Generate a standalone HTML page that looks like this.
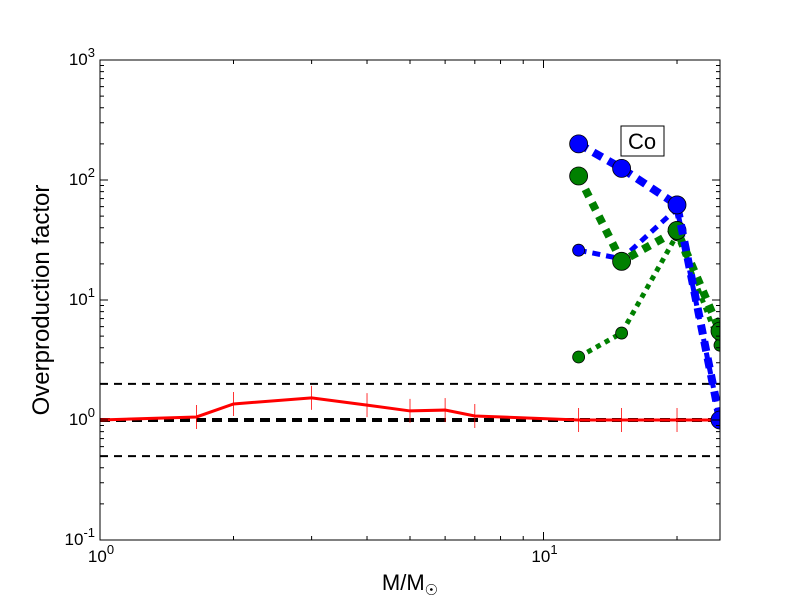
<!DOCTYPE html>
<html><head><meta charset="utf-8"><style>
body{margin:0;background:#fff;}
svg{display:block;font-family:"Liberation Sans",sans-serif;}
</style></head><body>
<svg id="chart" width="800" height="600">
<defs><clipPath id="clip"><rect x="100" y="60" width="620" height="480"/></clipPath></defs>
<rect x="0" y="0" width="800" height="600" fill="#fff"/>
<g id="plot" clip-path="url(#clip)"></g>
<g id="axes"></g>
</svg>
<script>
const redMass=[1,1.65,2,3,4,5,6,7,12,15,20,25];
const redVals=[1,1.06,1.36,1.53,1.33,1.19,1.21,1.08,1.0,1.0,1.0,1.0];
const massiveMass=[12,15,20,25];
const blueThick=[200,125,62,1];
const greenThick=[108,21,38,5.5];
const blueThin=[26,22,58,1];
const greenThin=[3.35,5.3,35,4.2];
const hLines=[2,1,0.5];
const xTickVals=[1,10];
const xTickLabels=["10","10"];
const xTickExp=["0","1"];
const yTickVals=[0.1,1,10,100,1000];
const yTickExp=["-1","0","1","2","3"];

const X0=100,X1=720,Y0=540,Y1=60,xmin=1,xmax=25,ymin=0.1,ymax=1000;
const sx=v=>X0+(Math.log10(v)-Math.log10(xmin))/(Math.log10(xmax)-Math.log10(xmin))*(X1-X0);
const sy=v=>Y0-(Math.log10(v)-Math.log10(ymin))/(Math.log10(ymax)-Math.log10(ymin))*(Y0-Y1);
const NS="http://www.w3.org/2000/svg";
const plot=document.getElementById('plot'),axes=document.getElementById('axes');
function mk(tag,attrs,parent){const e=document.createElementNS(NS,tag);for(const k in attrs)e.setAttribute(k,attrs[k]);parent.appendChild(e);return e;}

hLines.forEach((v,i)=>{
  const l=mk('line',{x1:X0,x2:X1,y1:sy(v),y2:sy(v),stroke:'#000','stroke-width':v===1?4:2,'stroke-dasharray':v===1?'10,6':'8,6'},plot);
  
  
});
const rp=redMass.map((m,i)=>sx(m)+','+sy(redVals[i])).join(' ');
const rl=mk('polyline',{points:rp,fill:'none',stroke:'#f00','stroke-width':3},plot);


redMass.forEach((m,i)=>{
  if(i===0)return;
  const e=mk('line',{x1:sx(m),x2:sx(m),y1:sy(redVals[i])-12,y2:sy(redVals[i])+12,stroke:'#f00','stroke-width':0.8},plot);
  
  
});
function series(vals,color,w,dash,r,name){
  const pts=massiveMass.map((m,i)=>sx(m)+','+sy(vals[i])).join(' ');
  const l=mk('polyline',{points:pts,fill:'none',stroke:color,'stroke-width':w,'stroke-dasharray':dash},plot);
  
  
  massiveMass.forEach((m,i)=>{
    const c=mk('circle',{cx:sx(m),cy:sy(vals[i]),r:r,fill:color,stroke:'#000','stroke-width':0.8},plot);
    
    
  });
}
series(greenThin,'#008000',5,'5,5',6,'green-thin');
series(blueThin,'#0000ff',5,'8,6',6,'blue-thin');
series(greenThick,'#008000',8,'8,7',9,'green-thick');
series(blueThick,'#0000ff',8,'10,7',9,'blue-thick');

const fr=mk('rect',{x:X0,y:Y1,width:X1-X0,height:Y0-Y1,fill:'none',stroke:'#000','stroke-width':1},axes);


for(let d=0;d<=1;d++)for(let k=1;k<10;k++){const v=k*Math.pow(10,d);if(v>xmax)continue;const x=sx(v);const L=k===1?8:4;
  mk('line',{x1:x,x2:x,y1:Y0,y2:Y0-L,stroke:'#000'},axes);mk('line',{x1:x,x2:x,y1:Y1,y2:Y1+L,stroke:'#000'},axes);}
xTickVals.forEach((v,i)=>{
  const t=mk('text',{x:sx(v)+1,y:Y0+22,'font-size':17,'text-anchor':'middle'},axes);
  t.textContent=xTickLabels[i];
  const s=mk('tspan',{dy:-8,'font-size':13},t);s.textContent=xTickExp[i];
  
  
});
for(let d=-1;d<3;d++)for(let k=1;k<10;k++){const v=k*Math.pow(10,d);const y=sy(v);const L=k===1?8:4;
  mk('line',{x1:X0,x2:X0+L,y1:y,y2:y,stroke:'#000'},axes);mk('line',{x1:X1,x2:X1-L,y1:y,y2:y,stroke:'#000'},axes);}
yTickVals.forEach((v,i)=>{
  const t=mk('text',{x:X0-5,y:sy(v)+5,'font-size':17,'text-anchor':'end'},axes);
  t.textContent='10';
  const s=mk('tspan',{dy:-8,'font-size':13},t);s.textContent=yTickExp[i];
  
  
});
</script>
<svg style="position:absolute;left:0;top:0" width="800" height="600">
<g>
<rect x="621" y="126" width="43" height="30" fill="#fff" stroke="#000" stroke-width="1"/>
<text x="642" y="149" font-size="22" text-anchor="middle" font-family="Liberation Sans, sans-serif">Co</text>
</g>
<text x="410" y="590" font-size="22" text-anchor="middle" font-family="Liberation Sans, sans-serif">M/M<tspan dy="5" font-size="15">☉</tspan></text>
<text transform="translate(49,300) rotate(-90)" font-size="24" text-anchor="middle" font-family="Liberation Sans, sans-serif">Overproduction factor</text>
</svg>
</body></html>
